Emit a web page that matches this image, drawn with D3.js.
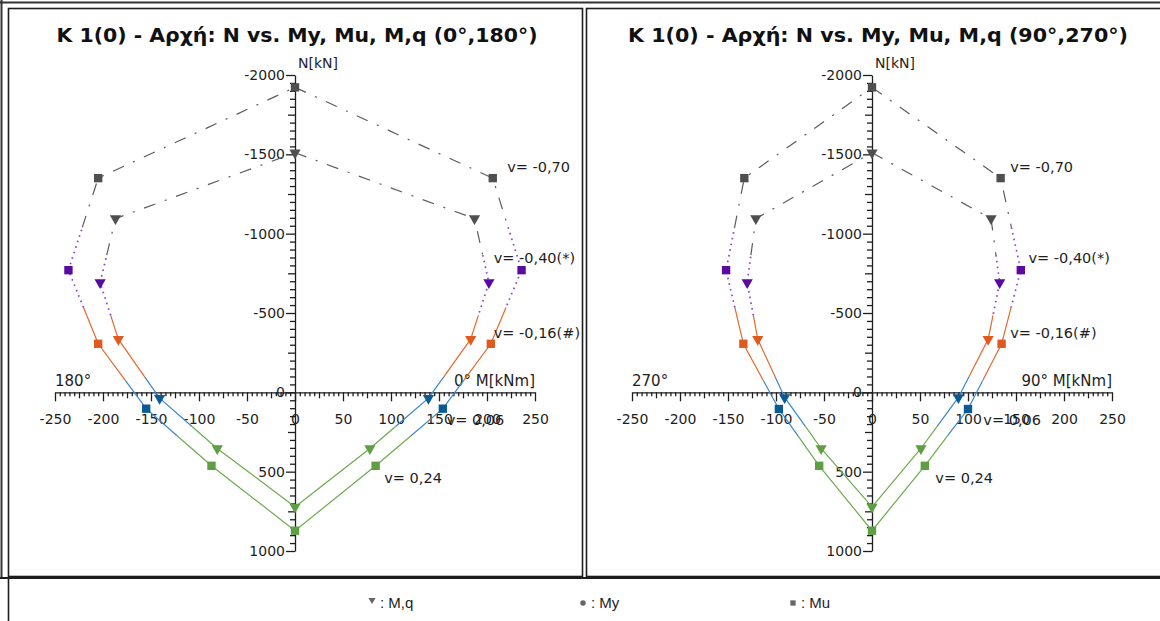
<!DOCTYPE html>
<html>
<head>
<meta charset="utf-8">
<script src="https://cdn.jsdelivr.net/npm/d3@7"></script>
<style>
  body { margin: 0; background: #fff; }
  svg { display: block; font-family: "DejaVu Sans", Verdana, sans-serif; }
</style>
</head>
<body>
<svg id="chart" width="1160" height="621"></svg>
<script>
// N–M interaction diagrams for column K 1(0), start section.
// Axis ticks
const mTicks = [-250, -200, -150, -100, -50, 0, 50, 100, 150, 200, 250];
const nTicks = [-2000, -1500, -1000, -500, 0, 500, 1000];

// Panel 1 (0°,180°) — vertex order: top, right side down, bottom, left side up
const mu1M = [0, 206, 236, 204, 154, 84, 0, -87, -155, -205, -236, -205, 0];
const mu1N = [-1922, -1350, -770, -306, 103, 463, 872, 463, 103, -306, -770, -1350, -1922];
const mq1M = [0, 187, 202, 183, 139, 78, 0, -81, -141, -184, -203, -187, 0];
const mq1N = [-1510, -1095, -692, -335, 37, 354, 722, 354, 37, -335, -692, -1095, -1510];

// Panel 2 (90°,270°)
const mu2M = [0, 134, 155, 135, 100, 55, 0, -55, -97, -134, -152, -133, 0];
const mu2N = [-1922, -1350, -770, -306, 105, 463, 872, 463, 105, -306, -770, -1350, -1922];
const mq2M = [0, 124, 133, 121, 90, 51, 0, -53, -91, -119, -130, -121, 0];
const mq2N = [-1510, -1095, -692, -335, 32, 354, 722, 354, 32, -335, -692, -1095, -1510];

// Axial-load bands (v ranges): labels, colours, line styles
const bandLabels = ["v= -0,70", "v= -0,40(*)", "v= -0,16(#)", "v= 0,06", "v= 0,24"];
const bandLine = ["#5c5c5c", "#8a3fd4", "#e5672d", "#3a86c9", "#6cab4d"];
const bandMark = ["#4f4f4f", "#5a0aa0", "#de5a1f", "#0c5a93", "#5f9e45"];
const bandDash = ["12,10,2,10", "1.6,4.2", null, null, null];
// N values where each curve passes from one band into the next
const muBreaks = [-1040, -535, -75, 275];
const mqBreaks = [-865, -485, -98, 215];

// Band label anchors (M at text start, N at text middle)
const lab1M = [221, 207, 207, 158, 93];
const lab2M = [144, 163, 144, 116, 66];
const labN = [-1421, -849, -377, 176, 541];

const panels = [
  { title: "K 1(0) - Αρχή: N vs. My, Mu, M,q (0°,180°)", cx: 297, zero: 295, tw: 481,
    right: "0° M[kNm]", left: "180°",
    mu: [mu1M, mu1N], mq: [mq1M, mq1N], labM: lab1M },
  { title: "K 1(0) - Αρχή: N vs. My, Mu, M,q (90°,270°)", cx: 878, zero: 872, tw: 500,
    right: "90° M[kNm]", left: "270°",
    mu: [mu2M, mu2N], mq: [mq2M, mq2N], labM: lab2M }
];

const svg = d3.select("#chart");
const ink = "#1e1e1e";

// Frames
svg.append("line").attr("x1", 0).attr("x2", 1160).attr("y1", 2.5).attr("y2", 2.5)
  .attr("stroke", "#333").attr("stroke-width", 2);
svg.append("line").attr("x1", 1.5).attr("x2", 1.5).attr("y1", 0).attr("y2", 578)
  .attr("stroke", "#333").attr("stroke-width", 2);
svg.append("rect").attr("x", 8.5).attr("y", 8.5).attr("width", 574).attr("height", 568)
  .attr("fill", "none").attr("stroke", ink).attr("stroke-width", 1.6);
svg.append("rect").attr("x", 586.5).attr("y", 8.5).attr("width", 600).attr("height", 568)
  .attr("fill", "none").attr("stroke", ink).attr("stroke-width", 1.6);
svg.append("line").attr("x1", 0).attr("x2", 1160).attr("y1", 578).attr("y2", 578)
  .attr("stroke", ink).attr("stroke-width", 2);
svg.append("line").attr("x1", 8.5).attr("x2", 8.5).attr("y1", 578).attr("y2", 621)
  .attr("stroke", ink).attr("stroke-width", 1.6);

const y = d3.scaleLinear().domain([-2000, 1000]).range([75, 551]);

function bandOf(n, breaks) {
  let b = 0;
  for (const t of breaks) if (n > t) b++;
  return b;
}

// Split a polyline into runs of constant band
function runs(ms, ns, breaks) {
  const out = [];
  let cur = null;
  for (let i = 0; i < ms.length - 1; i++) {
    const a = [ms[i], ns[i]], c = [ms[i + 1], ns[i + 1]];
    const cuts = [0];
    breaks.forEach(t => {
      if ((a[1] - t) * (c[1] - t) < 0) cuts.push((t - a[1]) / (c[1] - a[1]));
    });
    cuts.push(1);
    cuts.sort((p, q) => p - q);
    for (let k = 0; k < cuts.length - 1; k++) {
      const p0 = [a[0] + (c[0] - a[0]) * cuts[k], a[1] + (c[1] - a[1]) * cuts[k]];
      const p1 = [a[0] + (c[0] - a[0]) * cuts[k + 1], a[1] + (c[1] - a[1]) * cuts[k + 1]];
      const b = bandOf((p0[1] + p1[1]) / 2, breaks);
      if (cur && cur.band === b) cur.pts.push(p1);
      else { cur = { band: b, pts: [p0, p1] }; out.push(cur); }
    }
  }
  return out;
}

panels.forEach(p => {
  const x = d3.scaleLinear().domain([-250, 250]).range([p.zero - 240, p.zero + 240]);
  const g = svg.append("g");

  g.append("text").attr("x", p.cx).attr("y", 42).attr("text-anchor", "middle")
    .attr("font-size", 19).attr("font-weight", "bold").attr("fill", "#111")
    .attr("textLength", p.tw).attr("lengthAdjust", "spacingAndGlyphs").text(p.title);

  // Horizontal M axis with minor / mid / major ticks
  const xAxisY = y(0);
  const minor = d3.range(-250, 251, 5);
  g.append("g").attr("transform", `translate(0,${xAxisY})`)
    .call(d3.axisBottom(x).tickValues(minor.filter(v => v % 25 !== 0)).tickSize(4)
      .tickSizeOuter(0).tickFormat(""))
    .call(a => a.select(".domain").remove());
  g.append("g").attr("transform", `translate(0,${xAxisY})`)
    .call(d3.axisBottom(x).tickValues(minor.filter(v => v % 25 === 0 && v % 50 !== 0)).tickSize(6)
      .tickSizeOuter(0).tickFormat(""))
    .call(a => a.select(".domain").remove());
  const xa = g.append("g").attr("transform", `translate(0,${xAxisY})`)
    .call(d3.axisBottom(x).tickValues(mTicks).tickSize(9).tickSizeOuter(0)
      .tickPadding(13).tickFormat(d => String(d)));
  xa.selectAll("text").attr("font-size", 14).attr("fill", ink).attr("font-family", "DejaVu Sans");
  xa.selectAll("line,path").attr("stroke", ink).attr("stroke-width", 1.3);

  // Vertical N axis
  const yAxisX = x(0);
  const nMinor = d3.range(-2000, 1001, 50);
  g.append("g").attr("transform", `translate(${yAxisX},0)`)
    .call(d3.axisLeft(y).tickValues(nMinor.filter(v => v % 250 !== 0)).tickSize(5)
      .tickSizeOuter(0).tickFormat(""))
    .call(a => a.select(".domain").remove());
  g.append("g").attr("transform", `translate(${yAxisX},0)`)
    .call(d3.axisLeft(y).tickValues(nMinor.filter(v => v % 250 === 0 && v % 500 !== 0)).tickSize(7)
      .tickSizeOuter(0).tickFormat(""))
    .call(a => a.select(".domain").remove());
  const ya = g.append("g").attr("transform", `translate(${yAxisX},0)`)
    .call(d3.axisLeft(y).tickValues(nTicks).tickSize(9).tickSizeOuter(0)
      .tickPadding(1).tickFormat(d => String(d)));
  ya.selectAll("text").attr("font-size", 14).attr("fill", ink).attr("font-family", "DejaVu Sans");
  ya.selectAll("line,path").attr("stroke", ink).attr("stroke-width", 1.3);
  g.selectAll(".tick line").attr("stroke", ink).attr("stroke-width", 1.3);

  // Axis titles
  g.append("text").attr("x", yAxisX + 3).attr("y", 68).attr("font-size", 14).attr("fill", ink).text("N[kN]");
  g.append("text").attr("x", x(250)).attr("y", xAxisY - 6).attr("text-anchor", "end")
    .attr("font-size", 15).attr("fill", ink).text(p.right);
  g.append("text").attr("x", x(-250)).attr("y", xAxisY - 6).attr("font-size", 15)
    .attr("fill", ink).text(p.left);

  // Curves
  const line = d3.line().x(d => x(d[0])).y(d => y(d[1]));
  [[p.mu, muBreaks], [p.mq, mqBreaks]].forEach(([c, br]) => {
    runs(c[0], c[1], br).forEach(r => {
      g.append("path").attr("d", line(r.pts)).attr("fill", "none")
        .attr("stroke", bandLine[r.band]).attr("stroke-width", r.band === 1 ? 1.7 : 1.2)
        .attr("stroke-dasharray", bandDash[r.band]);
    });
  });
  [[p.mu, muBreaks, d3.symbolSquare, 70], [p.mq, mqBreaks, d3.symbolTriangle, 55]].forEach(([c, br, sym, size]) => {
    const pts = c[0].slice(0, -1).map((m, i) => [m, c[1][i]]);
    g.selectAll(null).data(pts).enter().append("path")
      .attr("d", d3.symbol().type(sym).size(size))
      .attr("transform", d => `translate(${x(d[0])},${y(d[1])})` + (sym === d3.symbolTriangle ? " rotate(180)" : ""))
      .attr("fill", d => bandMark[bandOf(d[1], br)]);
  });

  // Band labels
  bandLabels.forEach((t, i) => {
    g.append("text").attr("x", x(p.labM[i])).attr("y", y(labN[i])).attr("dy", "0.35em")
      .attr("font-size", 14.5).attr("fill", ink).text(t);
  });
});

// Legend
const legend = [
  { sym: d3.symbolTriangle, x: 372, text: ": M,q", rot: 180, size: 22 },
  { sym: d3.symbolCircle, x: 583, text: ": My", rot: 0, size: 24 },
  { sym: d3.symbolSquare, x: 793, text: ": Mu", rot: 0, size: 28 }
];
legend.forEach(l => {
  svg.append("path").attr("d", d3.symbol().type(l.sym).size(l.size))
    .attr("transform", `translate(${l.x},${l.rot ? 600 : 603}) rotate(${l.rot})`).attr("fill", "#666");
  svg.append("text").attr("x", l.x + 8).attr("y", 608).attr("font-size", 15)
    .attr("font-family", "Liberation Sans Narrow, Liberation Sans, sans-serif").attr("fill", ink).text(l.text);
});
</script>
</body>
</html>
